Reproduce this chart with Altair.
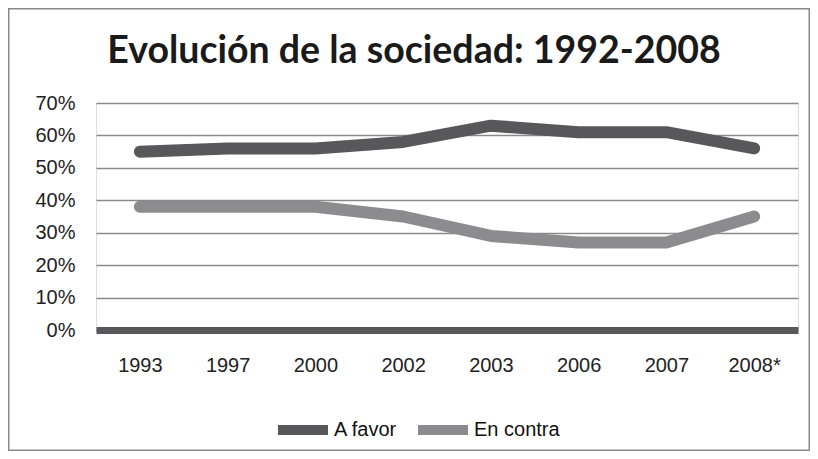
import altair as alt
import pandas as pd

years = ["1993", "1997", "2000", "2002", "2003", "2006", "2007", "2008*"]
a_favor = [55, 56, 56, 58, 63, 61, 61, 56]
en_contra = [38, 38, 38, 35, 29, 27, 27, 35]
series = ["A favor", "En contra"]
colors = ["#58585a", "#8c8c8e"]
y_ticks = [0, 10, 20, 30, 40, 50, 60, 70]
title_text = "Evolución de la sociedad: 1992-2008"

rows = []
for i, y in enumerate(years):
    rows.append({"year": y, "serie": series[0], "value": a_favor[i], "order": i})
    rows.append({"year": y, "serie": series[1], "value": en_contra[i], "order": i})
df = pd.DataFrame(rows)

W, H = 702, 227
PL, PT, PR, PB = 88, 95, 12, 121

lines = alt.Chart(df).mark_line(
    strokeWidth=12, strokeCap="round", strokeJoin="round"
).encode(
    x=alt.X("year:N", sort=years, scale=alt.Scale(type="point", padding=0.5),
            axis=alt.Axis(title=None, labelAngle=0, ticks=False, domain=True,
                          domainColor="#58585a", domainWidth=7, labelPadding=25,
                          labelFontSize=20, labelColor="#222222",
                          labelFont="Liberation Sans", grid=False)),
    y=alt.Y("value:Q", scale=alt.Scale(domain=[0, 70], nice=False),
            axis=alt.Axis(title=None, values=y_ticks, ticks=False, domain=False,
                          labelExpr="datum.value + '%'", labelPadding=21,
                          labelFontSize=20, labelColor="#222222",
                          labelFont="Liberation Sans", grid=True,
                          gridColor="#8a8a8a", gridWidth=1.5)),
    color=alt.Color("serie:N", scale=alt.Scale(domain=series, range=colors),
                    legend=alt.Legend(title=None, orient="none", legendX=177, legendY=297,
                                      direction="horizontal", symbolType="stroke",
                                      symbolSize=2500, symbolStrokeWidth=10,
                                      labelFontSize=20, labelColor="#111111",
                                      labelFont="Liberation Sans", columnPadding=0,
                                      labelOffset=1, padding=0)),
    order="order:Q",
)

one = pd.DataFrame({"t": [title_text]})

frame = alt.Chart(one).mark_rect(
    fillOpacity=0, stroke="#8a8a8a", strokeWidth=1.5
).encode(
    x=alt.value(-PL + 0.75), x2=alt.value(W + PR - 0.75),
    y=alt.value(-PT + 0.75), y2=alt.value(H + PB - 0.75),
)

title = alt.Chart(one).mark_text(
    font="Lato", fontWeight="bold", fontSize=37.5, color="#1a1a1a",
    align="center", baseline="middle"
).encode(
    text="t:N", x=alt.value(318), y=alt.value(-51),
)

chart = alt.layer(frame, title, lines).properties(
    width=W, height=H,
    autosize=alt.AutoSizeParams(type="none"),
    padding={"left": PL, "top": PT, "right": PR, "bottom": PB},
).configure_view(stroke=None).configure(background="white")

chart.save("out.html", embed_options={"renderer": "svg", "actions": False})
